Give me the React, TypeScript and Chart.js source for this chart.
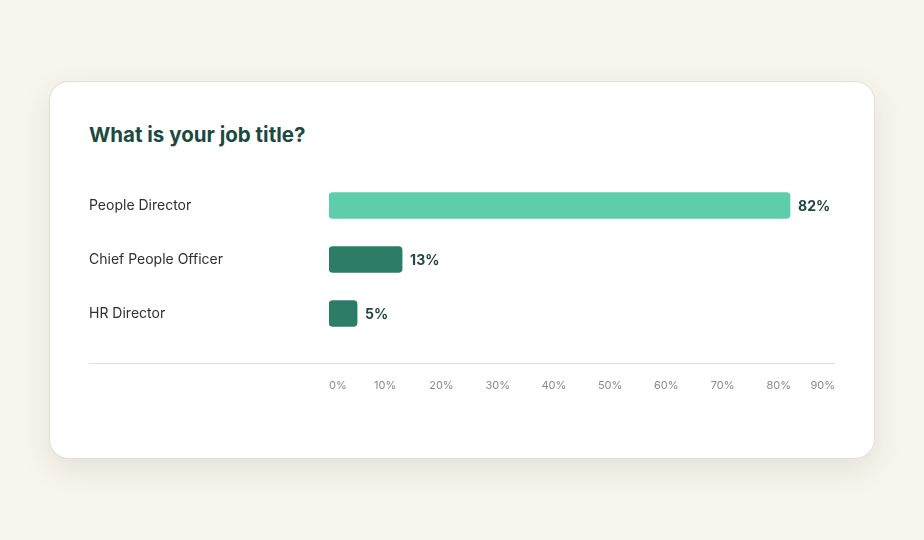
import React, { useEffect, useRef } from 'react';
import { Chart, registerables } from 'chart.js';

Chart.register(...registerables);

const categories = ['People Director', 'Chief People Officer', 'HR Director'];
const shares = [82, 13, 5];
const barColors = ['#5ecdab', '#2b7d68', '#2b7d68'];
const tickValues = [0, 10, 20, 30, 40, 50, 60, 70, 80, 90];

const FONT = 'Inter, "Noto Sans", sans-serif';

// value labels at the end of each bar + the separator line above the ticks
const extrasPlugin = {
    id: 'extras',
    afterDatasetsDraw(chart: any) {
        const ctx = chart.ctx;
        const meta = chart.getDatasetMeta(0);
        ctx.save();
        ctx.font = `700 14px ${FONT}`;
        ctx.fillStyle = '#214740';
        ctx.textAlign = 'left';
        ctx.textBaseline = 'middle';
        meta.data.forEach((bar: any, i: number) => {
            ctx.fillText(`${shares[i]}%`, bar.x + 8, bar.y + 1);
        });
        const y = Math.round(chart.chartArea.bottom + 22) + 0.5;
        ctx.strokeStyle = '#e2dfd6';
        ctx.lineWidth = 1;
        ctx.beginPath();
        ctx.moveTo(0, y);
        ctx.lineTo(chart.chartArea.right, y);
        ctx.stroke();
        ctx.restore();
    },
};

const JobTitleChart: React.FC = () => {
    const chartRef = useRef<HTMLCanvasElement | null>(null);

    useEffect(() => {
        const ctx = chartRef.current?.getContext('2d');
        if (!ctx) {
            return;
        }

        const myChart = new Chart(ctx, {
            type: 'bar',
            data: {
                labels: categories,
                datasets: [
                    {
                        data: shares,
                        backgroundColor: barColors,
                        borderRadius: 4,
                        borderSkipped: false,
                        barThickness: 26,
                    },
                ],
            },
            options: {
                indexAxis: 'y',
                animation: false,
                responsive: false,
                layout: { padding: { top: 8.5, bottom: 8.3, left: 0, right: 0 } },
                plugins: {
                    legend: { display: false },
                    tooltip: { enabled: false },
                },
                scales: {
                    x: {
                        min: 0,
                        max: 90,
                        afterBuildTicks: (scale: any) => {
                            scale.ticks = tickValues.map((v) => ({ value: v }));
                        },
                        afterFit: (scale: any) => {
                            scale.height = 51.2;
                            scale.paddingLeft = 0;
                            scale.paddingRight = 0;
                        },
                        grid: { display: false, drawTicks: false },
                        border: { display: false },
                        ticks: {
                            align: 'inner',
                            padding: 39,
                            maxRotation: 0,
                            color: '#8a8a8a',
                            font: { family: FONT, size: 11 },
                            callback: (v: any) => `${v}%`,
                        },
                    },
                    y: {
                        grid: { display: false, drawTicks: false },
                        border: { display: false },
                        afterFit: (scale: any) => {
                            scale.width = 240;
                            scale.paddingTop = 0;
                            scale.paddingBottom = 0;
                        },
                        ticks: {
                            crossAlign: 'far',
                            color: '#2f2f2f',
                            font: { family: FONT, size: 14 },
                        },
                    },
                },
            },
            plugins: [extrasPlugin],
        });

        return () => {
            myChart.destroy();
        };
    }, []);

    return <canvas ref={chartRef} width={746} height={230} style={{ display: 'block' }} />;
};

const App: React.FC = () => {
    return (
        <div
            style={{
                position: 'absolute',
                left: 0,
                top: 0,
                width: 924,
                height: 540,
                background: '#f8f5ee',
                fontFamily: FONT,
            }}
        >
            <div
                style={{
                    position: 'absolute',
                    left: 49,
                    top: 81,
                    width: 824,
                    height: 376,
                    background: '#ffffff',
                    border: '1px solid #e2dfd4',
                    borderRadius: 20,
                    boxShadow: '0 10px 30px rgba(50, 50, 20, 0.10)',
                }}
            >
                <h2
                    style={{
                        position: 'absolute',
                        left: 39,
                        top: 39,
                        margin: 0,
                        fontSize: 20.5,
                        lineHeight: '28px',
                        fontWeight: 700,
                        color: '#1c4a41',
                    }}
                >
                    What is your job title?
                </h2>
                <div style={{ position: 'absolute', left: 39, top: 88 }}>
                    <JobTitleChart />
                </div>
            </div>
        </div>
    );
};

export default App;
